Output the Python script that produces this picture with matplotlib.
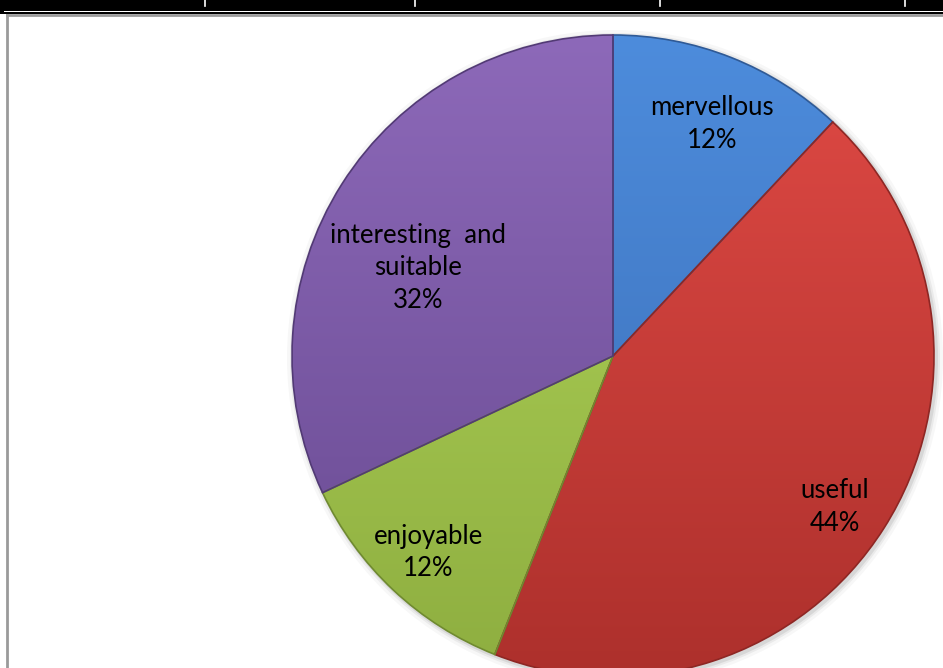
import numpy as np
import matplotlib
matplotlib.use("Agg")
import matplotlib.pyplot as plt
from matplotlib.patches import Rectangle, Circle
from matplotlib.colors import to_rgb

W, H = 943, 668

# survey answers
labels = ["mervellous", "useful", "enjoyable", "interesting  and\nsuitable"]
values = [12, 44, 12, 32]

# light (top) and dark (bottom) shade for every slice
top_colors = ["#4d8cdc", "#e04a45", "#b2d65a", "#8d69b9"]
bottom_colors = ["#3a6cb4", "#ad302c", "#8eae40", "#674990"]
edge_colors = ["#2f5a96", "#8e2724", "#6f8a30", "#523a75"]

# where the labels sit: fraction of radius and a small angle nudge
label_r = [0.785, 0.836, 0.84, 0.667]
label_dtheta = [-1.5, -1.8, 0.0, 8.1]

cx, cy, R = 613, H - 356, 321


def py(y):
    return H - y


fig = plt.figure(figsize=(W / 100, H / 100), dpi=100)
ax = fig.add_axes([0, 0, 1, 1])

# soft shadow round the pie
for dr, a in [(7, 0.03), (4, 0.05), (2, 0.08)]:
    ax.add_patch(Circle((cx + 2, cy - 2), R + dr, color="black", alpha=a, lw=0, zorder=1))

wedges, _ = ax.pie(values, colors=top_colors, startangle=90, counterclock=False,
                   center=(cx, cy), radius=R, frame=True,
                   wedgeprops=dict(linewidth=1.2))

for w, c0, c1, ec in zip(wedges, top_colors, bottom_colors, edge_colors):
    w.set_edgecolor(ec)
    w.set_zorder(3)
    t = np.linspace(0, 1, 256)[:, None]
    grad = (1 - t) * np.array(to_rgb(c1)) + t * np.array(to_rgb(c0))
    im = ax.imshow(grad[:, None, :], extent=(cx - R, cx + R, cy - R, cy + R),
                   origin="lower", interpolation="bilinear", aspect="auto", zorder=2)
    im.set_clip_path(w)
    w.set_facecolor("none")

for w, lab, v, rf, dt in zip(wedges, labels, values, label_r, label_dtheta):
    ang = np.deg2rad((w.theta1 + w.theta2) / 2 + dt)
    x = cx + rf * R * np.cos(ang)
    y = cy + rf * R * np.sin(ang)
    ax.text(x, y, f"{lab}\n{v}%", ha="center", va="center", fontsize=18.5,
            family="Lato", linespacing=1.38, color="black", zorder=5)

# table border above the chart
ax.add_patch(Rectangle((0, py(11)), W, 11, color="black", lw=0, zorder=6))
ax.add_patch(Rectangle((0, py(13.5)), W, 1.5, color="black", lw=0, zorder=6))
ax.add_patch(Rectangle((0, py(14)), 4, 14, color="black", lw=0, zorder=6))
for xv in [205, 415, 660, 905]:
    ax.plot([xv, xv], [py(0), py(6)], color="white", lw=1.2, zorder=7)
ax.plot([7, W], [py(15), py(15)], color="#9a9a9a", lw=2, zorder=6)
ax.plot([7, 7], [py(15), 0], color="#9a9a9a", lw=2, zorder=6)

ax.set_xlim(0, W)
ax.set_ylim(0, H)
ax.axis("off")

fig.savefig("out.png", dpi=100, facecolor="white")
